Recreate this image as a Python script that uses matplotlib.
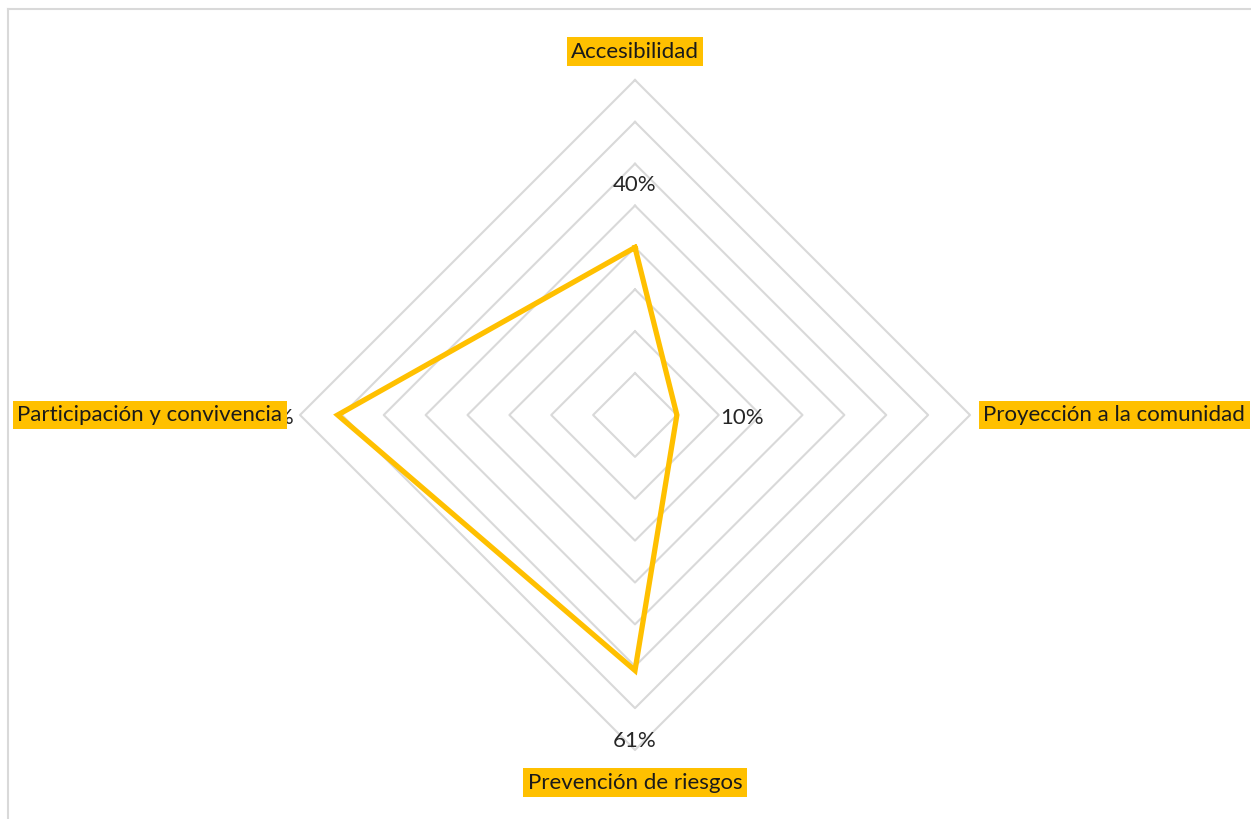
import numpy as np
import matplotlib
matplotlib.use("Agg")
import matplotlib.pyplot as plt
from matplotlib.lines import Line2D

plt.rcParams['font.family'] = ['Lato', 'DejaVu Sans']

# data
categories = ['Accesibilidad', 'Proyección a la comunidad',
              'Prevención de riesgos', 'Participación y convivencia']
values = [0.40, 0.10, 0.61, 0.71]
rings = [0.1, 0.2, 0.3, 0.4, 0.5, 0.6, 0.7, 0.8]

gold = '#FFC000'
grid_col = '#D9D9D9'

fig = plt.figure(figsize=(12.51, 8.19), dpi=100)
# polar axes centered at (635, 415) px, outer ring radius 335 px
ax = fig.add_axes([300 / 1251, 69 / 819, 670 / 1251, 670 / 819], projection='polar')
ax.set_theta_offset(np.pi / 2)
ax.set_theta_direction(-1)
ax.set_ylim(0, 0.8)
ax.grid(False)
ax.spines['polar'].set_visible(False)
ax.set_xticks([])
ax.set_yticks([])
ax.patch.set_alpha(0)

angles = np.linspace(0, 2 * np.pi, len(categories), endpoint=False)
closed = np.append(angles, angles[0])

# diamond grid rings
for r in rings:
    ax.plot(closed, [r] * len(closed), color=grid_col, lw=1.5, zorder=1,
            clip_on=False)

# data series
vals = values + values[:1]
ax.plot(closed, vals, color=gold, lw=3.8, zorder=3, solid_joinstyle='miter',
        clip_on=False)

# data labels, pushed outward from each point
offs = [0.155, 0.155, 0.163, 0.155]
for a, v, o in zip(angles, values, offs):
    ax.annotate(f'{round(v * 100)}%', (a, v + o), xytext=(0, -2),
                textcoords='offset points', ha='center', va='center',
                fontsize=16, color='#262626', zorder=4, annotation_clip=False)

# category labels with orange background
lab_r = [0.868, 0.832, 0.878, 0.842]
lab_ha = ['center', 'left', 'center', 'right']
for a, c, r, h in zip(angles, categories, lab_r, lab_ha):
    ax.text(a, r, c, ha=h, va='center', fontsize=16, color='#1a1a1a',
            zorder=5, clip_on=False,
            bbox=dict(boxstyle='square,pad=0.2', fc=gold, ec='none'))

# chart frame (only top and left edges visible)
fig.add_artist(Line2D([8 / 1251, 1.0], [1 - 9 / 819, 1 - 9 / 819],
                      color=grid_col, lw=1.5, transform=fig.transFigure))
fig.add_artist(Line2D([8 / 1251, 8 / 1251], [1 - 9 / 819, 0.0],
                      color=grid_col, lw=1.5, transform=fig.transFigure))

fig.savefig('out.png', dpi=100)
